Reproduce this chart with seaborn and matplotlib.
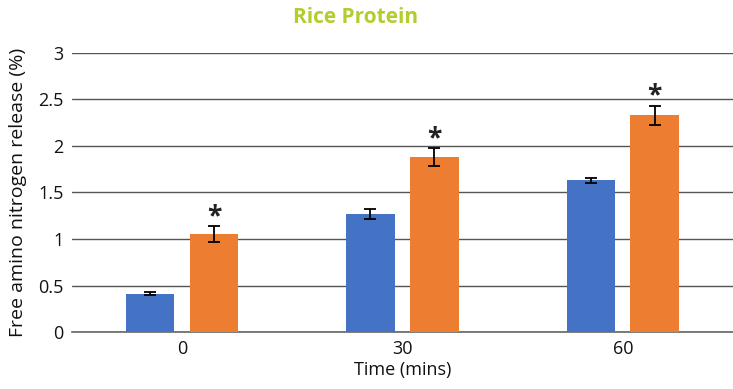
import numpy as np
import pandas as pd
import seaborn as sns
import matplotlib.pyplot as plt

# values
times = ["0", "30", "60"]
series = ["Control", "Treatment"]
blue_vals = [0.41, 1.27, 1.63]
orange_vals = [1.05, 1.88, 2.33]
blue_err = [0.015, 0.05, 0.03]
orange_err = [0.085, 0.095, 0.105]
y_ticks = [0, 0.5, 1, 1.5, 2, 2.5, 3]
y_tick_labels = ["0", "0.5", "1", "1.5", "2", "2.5", "3"]

df = pd.DataFrame({
    "time": times * 2,
    "group": [series[0]] * 3 + [series[1]] * 3,
    "value": blue_vals + orange_vals,
    "err": blue_err + orange_err,
})

sns.set_style("white")
plt.rcParams["font.family"] = ["Open Sans", "DejaVu Sans"]

fig = plt.figure(figsize=(7.33, 3.89), dpi=100)
ax = fig.add_axes([0.098, 0.1465, 0.902, 0.7173])

sns.barplot(data=df, x="time", y="value", hue="group", order=times,
            hue_order=series, palette=["#4472C4", "#ED7D31"], saturation=1,
            width=0.58, gap=0.24, errorbar=None, legend=False, ax=ax,
            linewidth=0, zorder=3)

# error bars and significance marks, positioned from the drawn bars
for container, errs, star in zip(ax.containers, [blue_err, orange_err], [False, True]):
    for bar, e in zip(container, errs):
        cx = bar.get_x() + bar.get_width() / 2
        h = bar.get_height()
        ax.errorbar(cx, h, yerr=e, fmt="none", ecolor="black", elinewidth=1.3,
                    capsize=4, capthick=1.3, zorder=4)
        if star:
            ax.text(cx, h + e + 0.1, "*", ha="center", va="center",
                    fontsize=19, fontweight="bold", color="#222222", zorder=5)

ax.set_ylim(0, 3)
ax.set_xlim(-0.5, 2.5)
ax.set_yticks(y_ticks)
ax.set_yticklabels(y_tick_labels)
ax.yaxis.grid(True, color="#555555", linewidth=1.0, zorder=0)
ax.set_axisbelow(True)
for s in ["top", "right", "left"]:
    ax.spines[s].set_visible(False)
ax.spines["bottom"].set_color("#666666")
ax.spines["bottom"].set_linewidth(1.2)
ax.tick_params(axis="both", length=0, labelsize=13, colors="#111111", pad=6)

ax.set_xlabel("Time (mins)", fontsize=13, color="#111111", labelpad=2)
ax.set_ylabel("Free amino nitrogen release (%)", fontsize=14, color="#111111",
              labelpad=8)

fig.text(0.485, 0.955, "Rice Protein", ha="center", va="center",
         fontsize=15, fontweight="bold", color="#B5CC2E")

fig.savefig("out.png", dpi=100)
